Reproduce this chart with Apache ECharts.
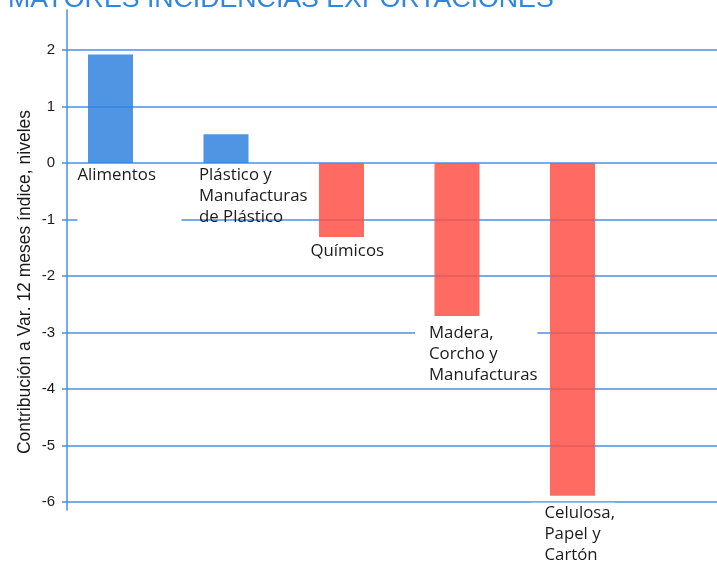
<!DOCTYPE html>
<html>
<head>
<meta charset="utf-8">
<script src="https://cdn.jsdelivr.net/npm/echarts@6/dist/echarts.min.js"></script>
<style>
  html, body { margin: 0; padding: 0; background: #fff; }
  #main { width: 717px; height: 561px; }
</style>
</head>
<body>
<div id="main"></div>
<script>
// datos
var categorias = ['Alimentos', 'Plástico y\nManufacturas\nde Plástico', 'Químicos', 'Madera,\nCorcho y\nManufacturas', 'Celulosa,\nPapel y\nCartón'];
var valores = [1.92, 0.51, -1.31, -2.71, -5.89];
var ticksY = [-6, -5, -4, -3, -2, -1, 0, 1, 2];

var azul = '#3083de';
var rojo = '#ff5146';
var linea = '#4a90e2';
var fuente = 'Open Sans';

// etiquetas: algunas llevan fondo blanco que tapa la grilla
function etiqueta(i) {
    var base = {
        show: true,
        position: 'bottom',
        align: 'left',
        verticalAlign: 'top',
        distance: 2,
        offset: [-32, 0],
        fontFamily: fuente,
        fontSize: 16.8,
        lineHeight: 21,
        color: '#1a1a1a',
        formatter: function(p) { return categorias[p.dataIndex]; }
    };
    if (i === 0) {
        base.offset = [-33, 0];
        base.formatter = '{a|' + categorias[0] + '}\n{g|}';
        base.rich = {
            a: { fontFamily: fuente, fontSize: 16.8, lineHeight: 21, color: '#1a1a1a', backgroundColor: '#fff' },
            g: { width: 104, height: 6, lineHeight: 72, backgroundColor: '#fff' }
        };
    }
    if (i === 1) base.offset = [-27, 0];
    if (i === 2) { base.distance = 4; base.offset = [-31, 0]; }
    if (i === 3 || i === 4) {
        base.distance = 7;
        base.backgroundColor = '#fff';
        base.padding = [0, 0, 0, 14];
        base.offset = [-42, 0];
    }
    return base;
}

var ejeY = {
    type: 'value',
    min: ticksY[0],
    max: ticksY[ticksY.length - 1],
    interval: 1
};

var myChart = echarts.init(document.getElementById('main'));
var option = {
    animation: false,
    title: {
        text: 'MAYORES INCIDENCIAS EXPORTACIONES',
        left: 8,
        top: -14,
        padding: 0,
        textStyle: { color: '#2f86e0', fontFamily: 'Liberation Sans', fontSize: 26.7, fontWeight: 'normal' }
    },
    grid: [
        { left: 52.75, width: 577.5, top: 50, bottom: 59 },   // barras
        { left: 67, right: 0, top: 50, bottom: 59 },           // grilla y etiquetas
        { left: 67, right: 0, top: 10, bottom: 51 }            // linea del eje
    ],
    xAxis: [
        { gridIndex: 0, type: 'category', data: categorias, show: false },
        { gridIndex: 1, type: 'value', min: 0, max: 1, show: false },
        { gridIndex: 2, type: 'value', min: 0, max: 1, show: false }
    ],
    yAxis: [
        Object.assign({ gridIndex: 0, show: false }, ejeY),
        Object.assign({
            gridIndex: 1,
            name: 'Contribución a Var. 12 meses índice, niveles',
            nameLocation: 'middle',
            nameGap: 33,
            nameMoveOverlap: false,
            nameTextStyle: { fontFamily: 'Liberation Sans', fontSize: 17.5, color: '#1a1a1a', padding: [0, 12, 0, 0] },
            axisLine: { show: false, onZero: false },
            axisTick: { show: true, length: 5, lineStyle: { color: linea, width: 1.5 } },
            axisLabel: { margin: 12, fontFamily: 'Liberation Sans', fontSize: 15, color: '#1a1a1a' },
            splitLine: { show: true, lineStyle: { color: linea, width: 1.5 } }
        }, ejeY),
        {
            gridIndex: 2,
            type: 'value',
            min: 0,
            max: 1,
            axisLine: { show: true, onZero: false, lineStyle: { color: linea, width: 1.5 } },
            axisTick: { show: false },
            axisLabel: { show: false },
            splitLine: { show: false }
        }
    ],
    series: [
        {
            type: 'bar',
            xAxisIndex: 0,
            yAxisIndex: 0,
            barWidth: 45,
            z: 2,
            itemStyle: {
                opacity: 0.85,
                color: function(p) { return p.value >= 0 ? azul : rojo; }
            },
            data: valores
        },
        {
            // capa de etiquetas por encima de la grilla
            type: 'bar',
            xAxisIndex: 0,
            yAxisIndex: 0,
            barWidth: 45,
            barGap: '-100%',
            z: 5,
            itemStyle: { color: 'rgba(0,0,0,0)' },
            data: valores.map(function(v, i) { return { value: v, label: etiqueta(i) }; })
        }
    ]
};
myChart.setOption(option);
</script>
</body>
</html>
